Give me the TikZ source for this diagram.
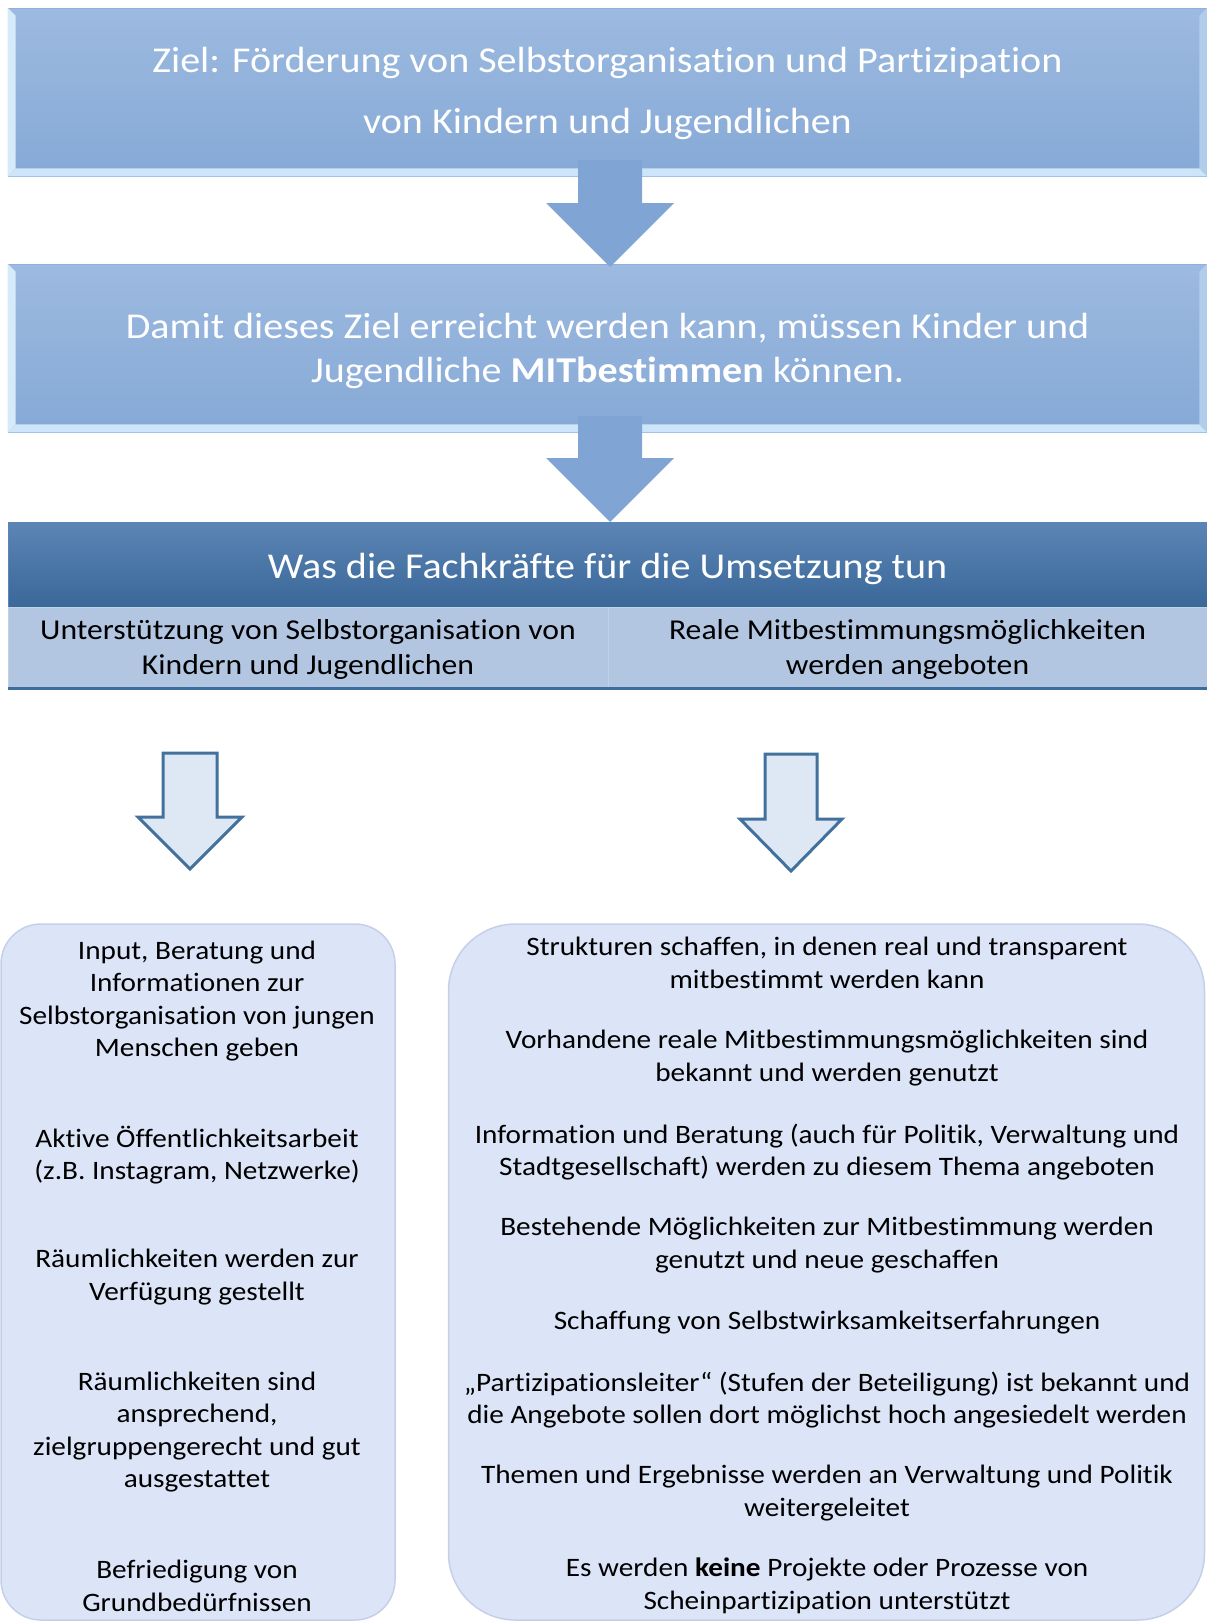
\documentclass[tikz,border=0pt]{standalone}
\usepackage{fontspec}
\setmainfont{Carlito}[FakeStretch=1.1, Ligatures=NoCommon]
\usetikzlibrary{positioning,calc}
\definecolor{goaltop}{HTML}{9DBAE0}
\definecolor{goalbot}{HTML}{85A9D6}
\definecolor{goaledge}{HTML}{8DB0DC}
\definecolor{bevlight}{HTML}{CDE5F8}
\definecolor{bevside}{HTML}{B2CCEC}
\definecolor{headtop}{HTML}{5B85B5}
\definecolor{headbot}{HTML}{3A6899}
\definecolor{headdark}{HTML}{3E6C9C}
\definecolor{subfill}{HTML}{B2C6E2}
\definecolor{boxfill}{HTML}{DCE4F8}
\definecolor{boxedge}{HTML}{C5D0E8}
\definecolor{outfill}{HTML}{DEE8F4}
\definecolor{outedge}{HTML}{41719C}
\definecolor{arrowblue}{HTML}{80A4D3}

% block arrow: style, top point, tip, half shaft, half head, head length
\newcommand{\blockarrow}[6]{%
  \path[#1] let \p1=#2, \p2=#3 in
    (\x1-#4,\y1) -- (\x1+#4,\y1) -- (\x1+#4,\y2+#6) -- (\x1+#5,\y2+#6)
    -- (\x2,\y2) -- (\x1-#5,\y2+#6) -- (\x1-#4,\y2+#6) -- cycle;}

% light bevel on the lower and left edges of a box
\newcommand{\bevel}[2]{%
  \fill[bevlight] (#1.south west) -- (#1.south east) -- ($(#1.south east)+(-#2,-#2)$)
    -- ($(#1.south west)+(#2,-#2)$) -- cycle;
  \fill[bevlight!80!white] (#1.north west) -- ($(#1.north west)+(#2,#2)$)
    -- ($(#1.south west)+(#2,-#2)$) -- (#1.south west) -- cycle;
  \fill[bevside] (#1.north east) -- ($(#1.north east)+(-#2,#2)$)
    -- ($(#1.south east)+(-#2,-#2)$) -- (#1.south east) -- cycle;}

\begin{document}
\begin{tikzpicture}[x=1pt,y=-1pt,
  goalbox/.style={minimum width=1199pt, minimum height=168pt, inner sep=0pt,
    top color=goaltop, bottom color=goalbot, draw=goaledge, line width=0.8pt,
    text=white, align=center},
  headbox/.style={minimum width=1199pt, minimum height=85pt, inner sep=0pt,
    top color=headtop, bottom color=headbot, draw=headtop, line width=0.8pt,
    text=white, font=\fontsize{36.4}{40}\selectfont},
  subbox/.style={minimum height=81pt, inner sep=0pt, fill=subfill,
    draw=subfill!80!white, line width=1pt, align=center,
    font=\fontsize{28.8}{34.5}\selectfont},
  colbox/.style={minimum height=696pt, inner sep=0pt, fill=boxfill,
    draw=boxedge, line width=1.5pt},
  item/.style={align=center, inner sep=0pt, font=\fontsize{26.6}{32.6}\selectfont},
  fatarrow/.style={fill=arrowblue},
  outarrow/.style={fill=outfill, draw=outedge, line width=3pt, line join=miter},
  ]
  \useasboundingbox (0,0) rectangle (1207,1622);

  % top boxes
  \node[goalbox, minimum height=168pt] (goal) at (607.5,92) {};
  \node[align=center, text=white, font=\fontsize{36.4}{61}\selectfont] (goaltext) at (607.5,93)
    {Ziel: Förderung von Selbstorganisation und Partizipation\\von Kindern und Jugendlichen};
  \bevel{goal}{8}
  \node[goalbox] (need) at (607.5,348) {};
  \node[align=center, text=white, font=\fontsize{36.4}{44}\selectfont] (needtext) at (607.5,351)
    {Damit dieses Ziel erreicht werden kann, müssen Kinder und\\Jugendliche \textbf{MITbestimmen} können.};
  \bevel{need}{8}

  \coordinate (a1top) at (610,160);
  \coordinate (a1tip) at (610,267);
  \coordinate (a2top) at (610,416);
  \coordinate (a2tip) at (610,522);
  \blockarrow{fatarrow}{(a1top)}{(a1tip)}{32}{64}{64}
  \blockarrow{fatarrow}{(a2top)}{(a2tip)}{32}{64}{64}

  % header with two columns
  \node[headbox] (head) at (607.5,564.5) {};
  \node[text=white, font=\fontsize{36.4}{40}\selectfont] (headtext) at (607.5,568.5)
    {Was die Fachkräfte für die Umsetzung tun};
  \node[subbox, minimum width=600pt] (subL) at (308,647.5) {};
  \node[subbox, minimum width=599pt] (subR) at (907.5,647.5) {};
  \node[align=center, font=\fontsize{28.8}{34.5}\selectfont] (subLtext) at (308,649.5)
    {Unterstützung von Selbstorganisation von\\Kindern und Jugendlichen};
  \node[align=center, font=\fontsize{28.8}{34.5}\selectfont] (subRtext) at (907.5,649.5)
    {Reale Mitbestimmungsmöglichkeiten\\werden angeboten};
  \draw[headdark, line width=3pt] (subL.south west) -- (subR.south east);

  % outline arrows
  \coordinate (lTop) at (190,753);
  \coordinate (lTip) at (190,869);
  \coordinate (rTop) at (791,754);
  \coordinate (rTip) at (791,871);
  \blockarrow{outarrow}{(lTop)}{(lTip)}{27}{52}{52}
  \blockarrow{outarrow}{(rTop)}{(rTip)}{26}{51}{52}

  % columns
  \node[colbox, minimum width=394pt, rounded corners=40pt] (colL) at (198,1272) {};
  \node[colbox, minimum width=756pt, rounded corners=67pt] (colR) at (826.5,1272) {};

  \node[item] (l1) at (197,1001) {Input, Beratung und\\Informationen zur\\Selbstorganisation von jungen\\Menschen geben};
  \node[item] (l2) at (197,1155) {Aktive Öffentlichkeitsarbeit\\(z.B. Instagram, Netzwerke)};
  \node[item] (l3) at (197,1277) {Räumlichkeiten werden zur\\Verfügung gestellt};
  \node[item] (l4) at (197,1432) {Räumlichkeiten sind\\ansprechend,\\zielgruppengerecht und gut\\ausgestattet};
  \node[item] (l5) at (197,1586) {Befriedigung von\\Grundbedürfnissen};

  \node[item] (r1) at (827,963) {Strukturen schaffen, in denen real und transparent\\mitbestimmt werden kann};
  \node[item] (r2) at (827,1058) {Vorhandene reale Mitbestimmungsmöglichkeiten sind\\bekannt und werden genutzt};
  \node[item] (r3) at (827,1152) {Information und Beratung (auch für Politik, Verwaltung und\\Stadtgesellschaft) werden zu diesem Thema angeboten};
  \node[item] (r4) at (827,1245) {Bestehende Möglichkeiten zur Mitbestimmung werden\\genutzt und neue geschaffen};
  \node[item] (r5) at (827,1323) {Schaffung von Selbstwirksamkeitserfahrungen};
  \node[item] (r6) at (827,1400) {„Partizipationsleiter“ (Stufen der Beteiligung) ist bekannt und\\die Angebote sollen dort möglichst hoch angesiedelt werden};
  \node[item] (r7) at (827,1493) {Themen und Ergebnisse werden an Verwaltung und Politik\\weitergeleitet};
  \node[item] (r8) at (827,1586) {Es werden \textbf{keine} Projekte oder Prozesse von\\Scheinpartizipation unterstützt};
\end{tikzpicture}
\end{document}
